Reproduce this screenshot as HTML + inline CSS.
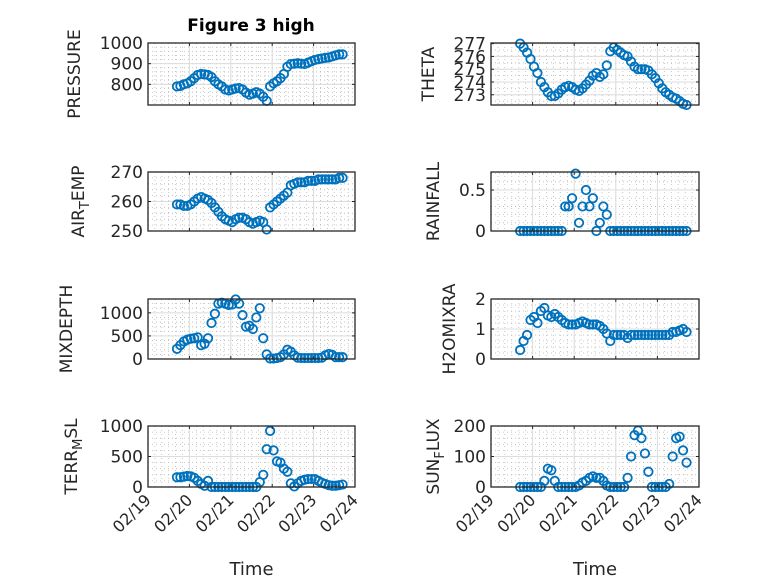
<!DOCTYPE html>
<html><head><meta charset="utf-8"><style>
html,body{margin:0;padding:0;background:#fff;}
svg{display:block;font-family:"DejaVu Sans","Liberation Sans",sans-serif;}
</style></head><body>
<svg id="fig" width="778" height="583" viewBox="0 0 778 583" xmlns="http://www.w3.org/2000/svg">
<rect width="778" height="583" fill="#fff"/>
<text x="251" y="31" text-anchor="middle" font-size="17" font-weight="bold" fill="#000">Figure 3 high</text>
<g id="plots"></g>
</svg>
<script>
const tStart = 0.70;
const tStep = 1/12;
const xTickLabels = ["02/19","02/20","02/21","02/22","02/23","02/24"];
const pressure = [790,792,800,805,815,830,845,850,848,845,835,815,800,790,775,770,775,780,782,775,760,750,755,762,755,740,720,790,805,815,830,850,885,898,900,902,900,898,905,912,918,922,925,928,930,935,940,945,945];
const theta = [277,276.7,276.3,275.8,275.2,274.7,274,273.6,273.2,272.9,272.9,273.1,273.4,273.6,273.7,273.6,273.4,273.3,273.5,273.8,274.1,274.5,274.7,274.4,274.6,275.3,276.4,276.7,276.5,276.3,276.1,276.0,275.6,275.2,275.0,275.0,275.0,274.9,274.6,274.3,273.9,273.5,273.2,273.0,272.8,272.7,272.5,272.3,272.2];
const airTemp = [259,259,258.5,258.5,259,260,261,261.5,261,260.5,259.5,258,256.5,255,254,253.5,253,254,254.5,254.5,254,253,252.5,253,253.5,253,250.5,258,259,260,261,262,263,265.5,266,266.5,266.5,266.5,267,267,267,267.5,267.5,267.5,267.5,267.5,267.5,268,268];
const rainfall = [0,0,0,0,0,0,0,0,0,0,0,0,0,0.3,0.3,0.4,0.7,0.1,0.3,0.5,0.3,0.4,0,0.1,0.3,0.2,0,0,0,0,0,0,0,0,0,0,0,0,0,0,0,0,0,0,0,0,0,0,0];
const mixDepth = [220,300,380,420,440,450,470,300,330,450,780,980,1200,1220,1200,1170,1180,1290,1200,950,700,720,650,900,1100,450,100,10,10,20,40,100,200,160,80,30,20,20,20,20,20,20,30,80,110,90,40,40,40];
const h2oMixra = [0.3,0.6,0.8,1.3,1.4,1.2,1.6,1.7,1.45,1.4,1.5,1.4,1.3,1.2,1.15,1.15,1.15,1.2,1.25,1.2,1.15,1.15,1.15,1.1,1.0,0.85,0.6,0.8,0.8,0.8,0.8,0.7,0.8,0.8,0.8,0.8,0.8,0.8,0.8,0.8,0.8,0.8,0.8,0.8,0.9,0.9,0.95,1.0,0.9];
const terrMsl = [160,160,170,180,175,150,100,50,20,100,0,0,0,0,0,0,0,0,0,0,0,0,0,0,80,200,620,920,600,420,400,300,250,60,10,60,100,120,130,130,130,100,70,50,30,20,20,30,40];
const sunFlux = [0,0,0,0,0,0,0,20,60,55,20,0,0,0,0,0,0,5,15,20,30,35,30,30,20,5,0,0,0,0,0,30,100,170,185,160,110,50,0,0,0,0,0,10,100,160,165,120,80];

const SVGNS="http://www.w3.org/2000/svg";
const root=document.getElementById('plots');
function mk(tag,attrs,parent){const e=document.createElementNS(SVGNS,tag);for(const k in attrs)e.setAttribute(k,attrs[k]);(parent||root).appendChild(e);return e;}

const plots=[
 {name:'pressure',data:pressure,x0:148,x1:355,y0:43,y1:105,min:700,max:1000,ticks:[800,900,1000],minor:20,label:['PRESSURE'],lx:80,bottom:false},
 {name:'theta',data:theta,x0:491,x1:699,y0:43,y1:105,min:272.2,max:277.05,ticks:[273,274,275,276,277],minor:0.5,label:['THETA'],lx:434,bottom:false},
 {name:'air-temp',data:airTemp,x0:148,x1:355,y0:172,y1:231,min:250,max:270,ticks:[250,260,270],minor:2,label:['AIR','T','EMP'],lx:84,bottom:false},
 {name:'rainfall',data:rainfall,x0:491,x1:699,y0:172,y1:231,min:0,max:0.72,ticks:[0,0.5],minor:0.1,label:['RAINFALL'],lx:439,bottom:false},
 {name:'mixdepth',data:mixDepth,x0:148,x1:355,y0:299,y1:359,min:0,max:1300,ticks:[0,500,1000],minor:100,label:['MIXDEPTH'],lx:72,bottom:false},
 {name:'h2omixra',data:h2oMixra,x0:491,x1:699,y0:299,y1:359,min:0,max:2,ticks:[0,1,2],minor:0.2,label:['H2OMIXRA'],lx:455,bottom:false},
 {name:'terr-msl',data:terrMsl,x0:148,x1:355,y0:426,y1:487,min:0,max:1000,ticks:[0,500,1000],minor:100,label:['TERR','M','SL'],lx:77,bottom:true},
 {name:'sun-flux',data:sunFlux,x0:491,x1:699,y0:426,y1:487,min:0,max:200,ticks:[0,100,200],minor:20,label:['SUN','F','LUX'],lx:439,bottom:true}
];
const C='#262626';
plots.forEach(p=>{
 const g=mk('g',{});
 
 
 const xs=t=>p.x0+(t/5)*(p.x1-p.x0);
 const ys=v=>p.y1-(v-p.min)/(p.max-p.min)*(p.y1-p.y0);
 for(let t=0;t<=5+1e-9;t+=1/6){const x=xs(t);mk('line',{x1:x,x2:x,y1:p.y0,y2:p.y1,stroke:'#b8b8b8','stroke-width':0.8,'stroke-dasharray':'1 3'},g);}
 const s0=Math.ceil(p.min/p.minor-1e-9);
 for(let k=s0;k*p.minor<=p.max+1e-9;k++){const y=ys(k*p.minor);mk('line',{x1:p.x0,x2:p.x1,y1:y,y2:y,stroke:'#b8b8b8','stroke-width':0.8,'stroke-dasharray':'1 3'},g);}
 for(let i=0;i<=5;i++){const x=xs(i);mk('line',{x1:x,x2:x,y1:p.y0,y2:p.y1,stroke:'#dcdcdc','stroke-width':1},g);}
 p.ticks.forEach(v=>{const y=ys(v);mk('line',{x1:p.x0,x2:p.x1,y1:y,y2:y,stroke:'#dcdcdc','stroke-width':1},g);});
 p.data.forEach((v,k)=>{
  const c=mk('circle',{cx:xs(tStart+k*tStep).toFixed(2),cy:ys(v).toFixed(2),r:4.2,fill:'none',stroke:'#0072BD','stroke-width':1.8},g);
  
  
 });
 mk('rect',{x:p.x0,y:p.y0,width:p.x1-p.x0,height:p.y1-p.y0,fill:'none',stroke:C,'stroke-width':1.3},g);
 for(let i=0;i<=5;i++){const x=xs(i);mk('line',{x1:x,x2:x,y1:p.y1,y2:p.y1-3,stroke:C},g);mk('line',{x1:x,x2:x,y1:p.y0,y2:p.y0+3,stroke:C},g);}
 p.ticks.forEach(v=>{const y=ys(v);mk('line',{x1:p.x0,x2:p.x0+3,y1:y,y2:y,stroke:C},g);mk('line',{x1:p.x1,x2:p.x1-3,y1:y,y2:y,stroke:C},g);
  const tl=mk('text',{x:p.x0-5,y:y+6,'text-anchor':'end','font-size':17,fill:C},g);tl.textContent=String(v);
  
  
 });
 const cy=(p.y0+p.y1)/2;
 const yl=mk('text',{x:p.lx,y:cy,'text-anchor':'middle','font-size':17,fill:C,transform:`rotate(-90 ${p.lx} ${cy})`},g);
 
 
 if(p.label.length===1){yl.textContent=p.label[0];}
 else{const a=mk('tspan',{},yl);a.textContent=p.label[0];const b=mk('tspan',{'font-size':13,dy:5},yl);b.textContent=p.label[1];const c=mk('tspan',{dy:-5},yl);c.textContent=p.label[2];}
 if(p.bottom){
  xTickLabels.forEach((lab,i)=>{const x=xs(i);const tx=mk('text',{x:x+4,y:p.y1+14,'text-anchor':'end','font-size':16,fill:C,transform:`rotate(-45 ${x+4} ${p.y1+14})`},g);tx.textContent=lab;
   
   
  });
  const xt=mk('text',{x:(p.x0+p.x1)/2,y:575,'text-anchor':'middle','font-size':18,fill:C},g);xt.textContent='Time';
  
  
 }
});
</script>
</body></html>
